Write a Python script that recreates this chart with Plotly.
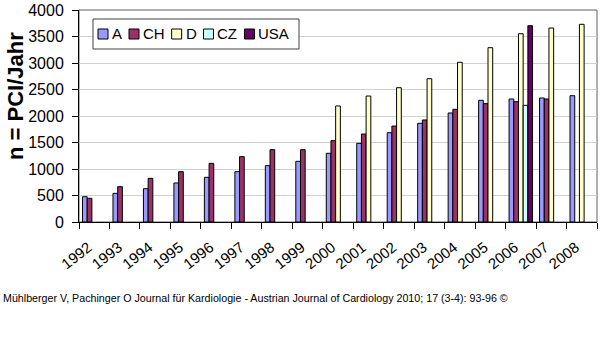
import plotly.graph_objects as go

years = [str(y) for y in range(1992, 2009)]
series_names = ["A", "CH", "D", "CZ", "USA"]
series_colors = ["#9999FF", "#993366", "#FFFFCC", "#CCFFFF", "#660066"]
vals_A = [477, 541, 629, 736, 843, 950, 1063, 1145, 1296, 1484, 1685, 1862, 2057, 2296, 2321, 2340, 2383]
vals_CH = [447, 667, 824, 950, 1107, 1233, 1365, 1365, 1535, 1660, 1811, 1925, 2126, 2233, 2270, 2321, None]
vals_D = [None] * 8 + [2189, 2377, 2534, 2704, 3013, 3289, 3553, 3660, 3730]
vals_CZ = [None] * 14 + [2201, None, None]
vals_USA = [None] * 14 + [3704, None, None]
y_ticks = list(range(0, 4001, 500))

series_vals = [vals_A, vals_CH, vals_D, vals_CZ, vals_USA]

W, H = 600, 348
ML, MR, MT, MB = 79, 3, 10, 126
PW, PH = W - ML - MR, H - MT - MB
FONT = "Liberation Sans, Arial, sans-serif"

fig = go.Figure()
for name, col, vals in zip(series_names, series_colors, series_vals):
    fig.add_trace(go.Bar(
        x=years, y=vals, name=name,
        marker=dict(color=col, line=dict(color="#000000", width=1)),
        showlegend=False,
    ))

def px_x(p):
    return (p - ML) / PW

def px_y(p):
    return (MT + PH - p) / PH

shapes = []
annotations = []

# plot area border (top/right)
shapes.append(dict(type="rect", xref="paper", yref="paper", x0=0, x1=1, y0=0, y1=1,
                   line=dict(color="#606060", width=1), layer="below"))

# custom legend
char_w = {"A": .667, "C": .722, "H": .722, "D": .722, "Z": .611, "U": .722, "S": .667}
lfs = 15
box_l, box_r, box_t, box_b = 93, 299, 19, 49
shapes.append(dict(type="rect", xref="paper", yref="paper",
                   x0=px_x(box_l), x1=px_x(box_r), y0=px_y(box_b), y1=px_y(box_t),
                   line=dict(color="#404040", width=1), fillcolor="white", layer="above"))
cx = 98
cy = 34
for name, col in zip(series_names, series_colors):
    tw = sum(char_w.get(c, .6) for c in name) * lfs
    shapes.append(dict(type="rect", xref="paper", yref="paper",
                       x0=px_x(cx), x1=px_x(cx + 10), y0=px_y(cy + 5), y1=px_y(cy - 5),
                       line=dict(color="#000000", width=1), fillcolor=col, layer="above"))
    annotations.append(dict(xref="paper", yref="paper", x=px_x(cx + 12), y=px_y(cy),
                            text=name, showarrow=False, xanchor="left", yanchor="middle",
                            font=dict(family=FONT, size=lfs, color="#000000")))
    cx += 13 + tw + 8

# y-axis title
annotations.append(dict(xref="paper", yref="paper", x=px_x(15), y=px_y(96),
                        text="<b>n = PCI/Jahr</b>", textangle=-90, showarrow=False,
                        xanchor="center", yanchor="middle",
                        font=dict(family=FONT, size=22, color="#000000")))

# footer
annotations.append(dict(xref="paper", yref="paper", x=px_x(1), y=px_y(298),
                        text="Mühlberger V, Pachinger O Journal für Kardiologie - Austrian Journal of Cardiology 2010; 17 (3-4): 93-96 ©",
                        showarrow=False, xanchor="left", yanchor="middle",
                        font=dict(family=FONT, size=10.7, color="#000000")))

fig.update_layout(
    width=W, height=H,
    margin=dict(l=ML, r=MR, t=MT, b=MB, pad=0),
    paper_bgcolor="white", plot_bgcolor="white",
    barmode="group", bargap=0.23, bargroupgap=0,
    shapes=shapes, annotations=annotations,
    font=dict(family=FONT, color="#000000"),
)
fig.update_xaxes(
    type="category", range=[-0.5, 16.5], tickson="boundaries",
    ticks="outside", ticklen=6, tickcolor="#000000", tickwidth=1,
    showline=True, linecolor="#000000", linewidth=1,
    showgrid=False, tickangle=-38,
    tickfont=dict(family=FONT, size=15, color="#000000"),
    ticklabelstandoff=10, ticklabelshift=-6,
)
fig.update_yaxes(
    range=[0, 4000], tickvals=y_ticks, ticktext=[str(v) for v in y_ticks],
    ticks="outside", ticklen=6, tickcolor="#000000", tickwidth=1,
    showline=True, linecolor="#000000", linewidth=1,
    showgrid=True, gridcolor="#d0d0d0", gridwidth=1, zeroline=False,
    tickfont=dict(family=FONT, size=16, color="#000000"),
    ticklabelstandoff=5,
)

fig.write_html("out.html")
